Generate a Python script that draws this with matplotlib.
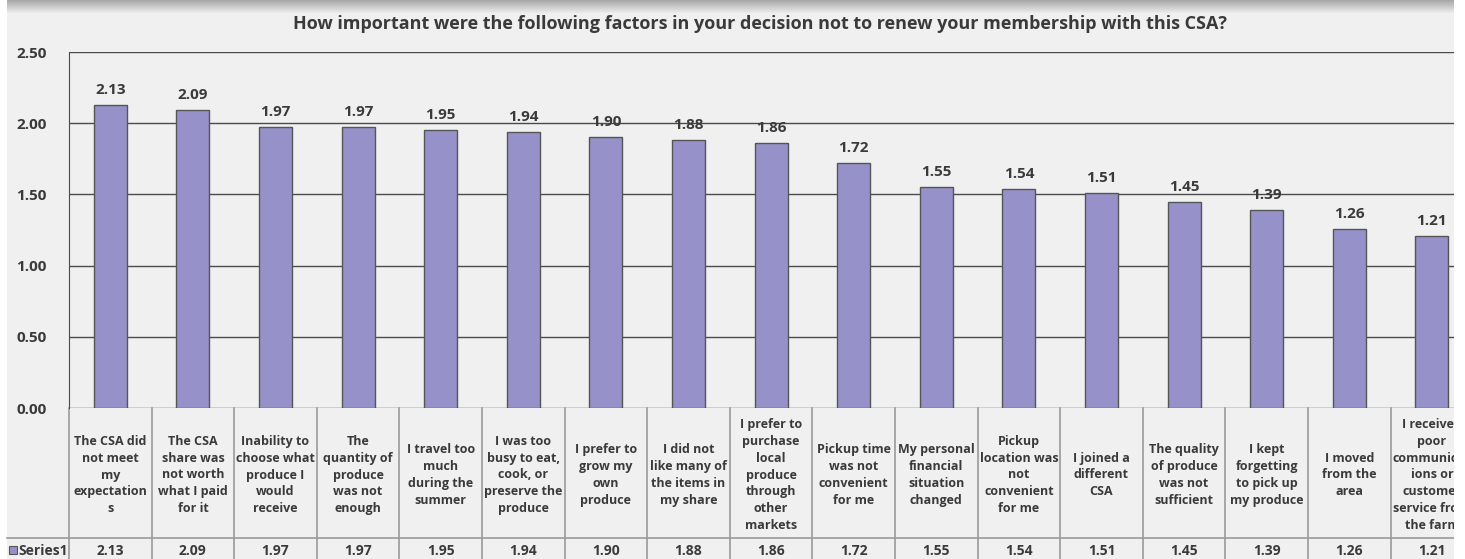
import numpy as np
import matplotlib.pyplot as plt
import matplotlib.transforms as mtransforms

categories = [
    "The CSA did\nnot meet\nmy\nexpectation\ns",
    "The CSA\nshare was\nnot worth\nwhat I paid\nfor it",
    "Inability to\nchoose what\nproduce I\nwould\nreceive",
    "The\nquantity of\nproduce\nwas not\nenough",
    "I travel too\nmuch\nduring the\nsummer",
    "I was too\nbusy to eat,\ncook, or\npreserve the\nproduce",
    "I prefer to\ngrow my\nown\nproduce",
    "I did not\nlike many of\nthe items in\nmy share",
    "I prefer to\npurchase\nlocal\nproduce\nthrough\nother\nmarkets",
    "Pickup time\nwas not\nconvenient\nfor me",
    "My personal\nfinancial\nsituation\nchanged",
    "Pickup\nlocation was\nnot\nconvenient\nfor me",
    "I joined a\ndifferent\nCSA",
    "The quality\nof produce\nwas not\nsufficient",
    "I kept\nforgetting\nto pick up\nmy produce",
    "I moved\nfrom the\narea",
    "I received\npoor\ncommunicat\nions or\ncustomer\nservice from\nthe farm",
]
values = [2.13, 2.09, 1.97, 1.97, 1.95, 1.94, 1.90, 1.88, 1.86, 1.72,
          1.55, 1.54, 1.51, 1.45, 1.39, 1.26, 1.21]
series_name = "Series1"
yticks = [0.0, 0.5, 1.0, 1.5, 2.0, 2.5]
title = "How important were the following factors in your decision not to renew your membership with this CSA?"

W, H = 1465, 559
bg = "#eff0ef"
txt = "#3a3a3a"
bar_col = "#9691c8"
line_col = "#4a4a4a"
cell_col = "#9a9a9a"
plt.rcParams['font.family'] = ['Open Sans', 'DejaVu Sans']

fig = plt.figure(figsize=(W / 100, H / 100), dpi=100)
fig.patch.set_facecolor("white")

# background panel with top shadow
bgax = fig.add_axes([0, 0, 1, 1])
bgax.set_xlim(0, W)
bgax.set_ylim(H, 0)
bgax.axis("off")
bgax.add_patch(plt.Rectangle((7, 0), 1454 - 7, H, color=bg, lw=0))
grad = np.linspace(0, 1, 14)[:, None]
shade = np.ones((14, 1, 3))
for i in range(3):
    shade[:, 0, i] = 0.66 + (0.94 - 0.66) * grad[:, 0]
bgax.imshow(shade, extent=(7, 1454, 14, 0), aspect="auto", zorder=1)

x0, x1 = 69, 69 + 17 * 82.6
y_top, y_zero = 52, 408
ax = fig.add_axes([x0 / W, 1 - y_zero / H, (x1 - x0) / W, (y_zero - y_top) / H])
ax.set_facecolor("none")
n = len(values)
x = np.arange(n)
ax.set_xlim(-0.5, n - 0.5)
ax.set_ylim(0, 2.5)
ax.bar(x, values, width=0.4, color=bar_col, edgecolor="#555555", linewidth=1.0, zorder=3)
for yv in yticks:
    ax.axhline(yv, color=line_col, lw=1.0, zorder=2)
for s in ["top", "right", "bottom"]:
    ax.spines[s].set_visible(False)
ax.spines["left"].set_color(line_col)
ax.set_xticks([])
ax.set_yticks(yticks)
ax.set_yticklabels(["%.2f" % v for v in yticks], fontsize=11, fontweight="bold", color=txt)
ax.tick_params(axis="y", length=0, pad=16)

for xi, v in zip(x, values):
    ax.annotate("%.2f" % v, (xi, v), xytext=(0, 15), textcoords="offset pixels",
                ha="center", va="center", fontsize=11, fontweight="bold", color=txt, zorder=4)

# data table below the axis
tr = mtransforms.blended_transform_factory(ax.transData, fig.transFigure)
def fy(py):
    return 1 - py / H

row1, row2 = 408, 538
for b in np.arange(-0.5, n, 1.0):
    ax.plot([b, b], [fy(row1), fy(H + 5)], transform=tr, color=cell_col, lw=1.2, clip_on=False)
fig.add_artist(plt.Line2D([7 / W, 1], [fy(row2), fy(row2)], color=cell_col, lw=1.2))
for xi, lab, v in zip(x, categories, values):
    ax.text(xi, fy((row1 + row2) / 2 + 2), lab, transform=tr, ha="center", va="center",
            fontsize=9, fontweight="bold", color=txt, linespacing=1.38, clip_on=False)
    ax.text(xi, fy(551), "%.2f" % v, transform=tr, ha="center", va="center",
            fontsize=10, fontweight="bold", color=txt, clip_on=False)

bgax.add_patch(plt.Rectangle((9, 546), 8, 8, facecolor=bar_col, edgecolor="#555555", lw=0.8, zorder=3))
bgax.text(18, 551, series_name, ha="left", va="center", fontsize=10, fontweight="bold", color=txt, zorder=3)

fig.text(760 / W, fy(24), title, ha="center", va="center", fontsize=13, fontweight="bold", color=txt)

# the source picture is cropped on the right
fig.add_artist(plt.Rectangle((1454 / W, 0), 1 - 1454 / W, 1, transform=fig.transFigure,
                             facecolor="white", lw=0, zorder=20))

fig.savefig("out.png", dpi=100, facecolor=fig.get_facecolor())
